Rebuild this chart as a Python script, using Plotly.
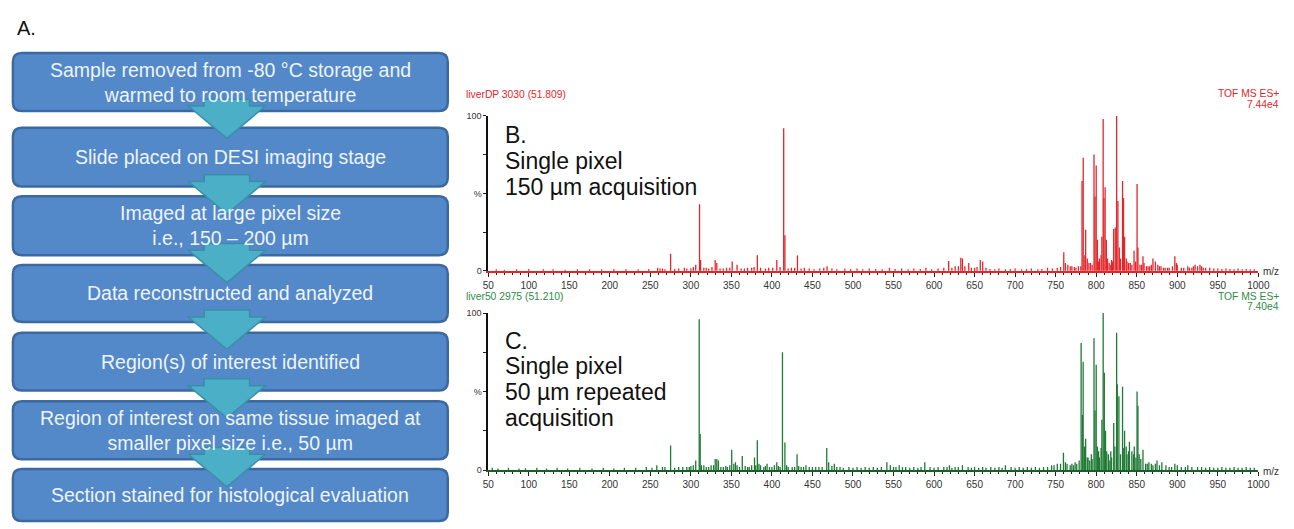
import plotly.graph_objects as go

# ---------------- data ----------------
steps = [
    "Sample removed from -80 °C storage and<br>warmed to room temperature",
    "Slide placed on DESI imaging stage",
    "Imaged at large pixel size<br>i.e., 150 – 200 µm",
    "Data reconstructed and analyzed",
    "Region(s) of interest identified",
    "Region of interest on same tissue imaged at<br>smaller pixel size i.e., 50 µm",
    "Section stained for histological evaluation",
]

# Spectrum B (150 um) : m/z and relative intensity (%)
mz_b = [60, 70, 85, 100, 118, 130, 145, 160, 175, 190, 205, 220, 235, 248, 259, 265, 275, 285, 292,
        300, 303, 306, 310.7, 312, 316, 322, 330, 332, 336, 344, 351, 357, 366, 375, 382, 386, 396,
        406, 414.5, 416, 424, 431.5, 440, 468, 474, 490, 505, 520, 545, 560, 575, 590, 605, 618,
        630, 633, 635, 642.8, 646, 657, 660, 664, 680, 700, 720, 740, 752, 760, 765, 770, 775, 781,
        782.5, 784, 786, 787, 789, 791, 795, 797.3, 798.5, 800, 801.5, 803, 806, 807, 808.6, 809.5,
        811, 812.5, 814, 818, 820, 821.6, 823.5, 825.2, 826.8, 828.5, 830, 832.5, 833.7, 835, 838,
        842, 846.7, 848.5, 850.4, 851.5, 854, 857.7, 862, 866, 870, 873, 876, 880, 885, 890, 897,
        900, 905, 913, 918, 922, 925, 928, 932, 940, 950, 960, 975, 990]
int_b = [1, 0.8, 1, 1.2, 1, 1, 0.8, 1, 1, 1, 1.2, 1, 1, 1.2, 2, 1.5, 11, 1.5, 2,
         1.5, 2.5, 4, 43, 7, 2, 1.5, 7, 5, 1.5, 2, 6, 4, 1.5, 2, 10, 2, 2,
         7, 92, 23, 2, 10, 2, 3, 1.5, 1.5, 1.5, 1.5, 2, 1.5, 1.5, 2, 1.5, 6.3,
         3, 8.4, 8, 5, 2, 7, 6, 2, 1.5, 1.5, 1.5, 2, 2, 12, 4, 3, 2, 3,
         58, 73, 10, 26.6, 8, 5, 4, 75, 48, 68, 20, 6, 10, 22, 98, 47,
         54, 20, 8, 4, 6, 27, 28, 100, 45, 15, 8, 58, 47, 22, 6,
         5, 13, 6, 56, 15, 4, 9.5, 3, 3, 8, 6, 4, 3, 2, 2, 9.5,
         4, 2, 3, 2, 4, 3, 4, 2, 2, 1.5, 1.5, 1.5, 1]
# small background peaks of spectrum B
noise_mz_b = [262, 268, 280, 295, 319, 326, 340, 348, 362, 370, 378, 392, 401, 410, 420, 428, 436,
              446, 452, 459, 464, 480, 497, 512, 528, 536, 552, 568, 583, 597, 612, 622, 626, 638,
              650, 653, 669, 675, 688, 694, 708, 714, 728, 733, 746, 756, 762, 768, 773, 778, 793,
              804, 816, 819, 837, 840, 844, 856, 859, 864, 868, 878, 883, 888, 894, 899, 908, 915,
              920, 930, 935, 945, 955, 965, 970, 980, 985, 995]
noise_int_b = [1.5, 1, 1.2, 1.5, 2, 2.5, 1.5, 2, 1.5, 2, 2.5, 1.5, 2, 2.5, 1.5, 2, 1.5,
               1.5, 1, 1.5, 2, 1, 1.2, 1, 1.2, 1, 1.2, 1, 1.2, 1, 2, 2, 3, 3,
               2, 2.5, 1.2, 1, 1, 1.2, 1, 1.2, 1, 1.2, 1.5, 2.5, 5, 3, 2.5, 3, 5,
               8, 5, 7, 8, 5, 4, 4, 5, 3, 4, 3, 2, 2, 3, 5, 2, 2,
               3, 3, 2, 1.5, 1.2, 1.2, 1, 1, 1.2, 1]

# Spectrum C (50 um repeated)
mz_c = [55, 62, 75, 88, 96, 110, 122, 135, 148, 163, 178, 192, 205, 218, 232, 245, 252,
        258, 268, 275, 290, 298, 303, 306, 310.3, 311.5, 316, 322, 328, 330, 332, 334, 340, 345,
        350.4, 353, 355, 357, 363.4, 370, 375, 378.5, 382, 386, 390, 394, 400, 406, 410, 413, 416,
        420, 425, 431, 436, 442, 450, 458, 467.6, 470, 477, 484, 495, 505, 515, 525, 535, 541.8,
        546, 557, 565, 575, 588.5, 595, 605, 612, 619, 626, 635, 642, 650, 660, 670, 680, 688,
        695, 705, 715, 725, 735, 745, 752, 759.6, 764, 768, 772, 776, 779, 781.4, 783, 783.9,
        785.5, 787, 789, 792, 795, 797.3, 798.5, 800, 801.5, 804, 806, 807, 808.6, 810, 811.5,
        813, 816, 819, 821.6, 823, 825.2, 826, 828, 830, 832.5, 834, 835, 838, 841, 844, 847,
        849, 850.4, 851.5, 853, 857.7, 861, 865, 870, 875, 878, 881, 890, 897, 905, 913, 925,
        940, 955, 970, 985]
int_c = [1.5, 1, 1.5, 1, 1.2, 1.5, 1, 1.5, 1, 1.5, 1, 1.5, 1, 1.5, 1.5, 2, 1.5,
         3, 2, 15.6, 2, 2, 3, 6, 96, 23, 3, 2, 3, 7, 7, 6, 2, 2,
         13, 4, 5, 3, 9, 2, 3, 8, 19, 3, 2, 4, 2, 5, 2, 75, 17.5,
         2, 2, 10, 2, 3, 2, 2, 14, 5, 4, 2, 2, 2, 2, 2, 2, 5,
         3, 3, 2, 2, 5, 2, 2, 2, 3, 2, 3, 2, 2, 2, 2, 2, 3,
         2, 2, 2, 2, 2, 3, 4, 11, 4, 3, 3, 4, 6, 81, 35, 69,
         15, 20, 8, 6, 7, 84, 38, 67, 15, 8, 14, 32, 100, 62, 25,
         12, 6, 8, 30, 15, 87.5, 54.6, 47, 10, 53, 14, 25, 10, 18, 12, 15,
         8, 50, 41, 10, 13, 4, 5, 3, 6, 3, 5, 2, 4, 2, 3, 2,
         2, 2, 2, 2]
# small background peaks of spectrum C
noise_mz_c = [265, 280, 285, 295, 300, 313, 319, 325, 337, 343, 348, 360, 367, 372, 380, 384, 392,
              397, 403, 408, 418, 428, 433, 439, 446, 454, 462, 474, 480, 488, 500, 510, 520, 530,
              550, 553, 561, 570, 580, 584, 600, 616, 622, 630, 646, 655, 664, 675, 684, 700, 710,
              720, 730, 740, 748, 756, 762, 770, 774, 790, 794, 803, 815, 818, 837, 840, 846, 855,
              863, 868, 873, 886, 893, 900, 910, 918, 930, 935, 945, 950, 960, 965, 975, 980, 990, 995]
noise_int_c = [2, 1.5, 2, 2, 2.5, 3, 2, 3, 2, 2.5, 3, 2, 2.5, 2, 3, 4, 2.5,
               2, 3, 2.5, 3, 2, 2.5, 2, 2, 2, 2, 2.5, 2, 1.5, 1.5, 1.5, 1.5, 1.5,
               2, 2, 2, 1.5, 1.5, 2, 1.5, 2, 1.5, 2, 1.5, 1.5, 1.5, 1.5, 1.5, 1.5, 1.5,
               1.5, 1.5, 2, 3, 4, 5, 4, 5, 8, 10, 12, 10, 12, 15, 12, 10, 7,
               4, 4, 4, 3, 2, 3, 2, 2, 2, 1.5, 1.5, 1.5, 1.5, 1.5, 1.5, 1.5, 1.5, 1.5]

x_ticks = list(range(50, 1001, 50))

# ---------------- helpers (page pixels -> paper) ----------------
W, H = 1294, 529
def X(p): return p / W
def Y(p): return 1 - p / H

def sticks(mz, inten):
    xs, ys = [], []
    for m, v in zip(mz, inten):
        xs += [m, m, None]
        ys += [0, v, None]
    return xs, ys

RED = "#E3262B"
GREEN = "#1F7A35"
FONT = "Liberation Sans, Arial, sans-serif"

fig = go.Figure()
for mzs, ints, color, xa, ya in [(noise_mz_b, noise_int_b, RED, "x", "y"),
                                 (mz_b, int_b, RED, "x", "y"),
                                 (noise_mz_c, noise_int_c, GREEN, "x2", "y2"),
                                 (mz_c, int_c, GREEN, "x2", "y2")]:
    xs, ys = sticks(mzs, ints)
    fig.add_trace(go.Scatter(x=xs, y=ys, mode="lines", line=dict(color=color, width=1.3),
                             xaxis=xa, yaxis=ya, showlegend=False, hoverinfo="skip"))

def xaxis_style(anchor, linecolor):
    return dict(domain=[X(489), X(1270)], range=[50, 1000], anchor=anchor,
                showgrid=False, zeroline=False, showline=True, linecolor=linecolor, linewidth=2,
                tickmode="array", tickvals=x_ticks, ticks="outside", ticklen=4, tickwidth=1,
                tickcolor="#222", tickfont=dict(size=10, color="#333", family=FONT),
                minor=dict(ticks="outside", ticklen=2, dtick=10, tick0=50, tickcolor="#222", tickwidth=1))

def yaxis_style(anchor, y0, y1):
    return dict(domain=[Y(y0), Y(y1)], range=[0, 100], anchor=anchor,
                showgrid=False, zeroline=False, showline=True, linecolor="#111", linewidth=1.5,
                tickmode="array", tickvals=[0, 25, 50, 75, 100], ticktext=["0", "", "%", "", "100"],
                ticks="outside", ticklen=3, tickcolor="#222",
                tickfont=dict(size=9, color="#333", family=FONT))

fig.update_layout(
    width=W, height=H, margin=dict(l=0, r=0, t=0, b=0), autosize=False,
    paper_bgcolor="white", plot_bgcolor="white",
    xaxis=xaxis_style("y", RED),
    yaxis=yaxis_style("x", 271, 113),
    xaxis2=xaxis_style("y2", "#1B5E2B"),
    yaxis2=yaxis_style("x2", 474, 314),
)

# ---------------- flowchart ----------------
boxes = [(49, 108), (125, 185), (195, 255), (265, 323), (334, 393), (404, 463), (473, 526)]
bx0, bx1, r = 7, 448, 9
shapes = []
def rrect(x0, y0, x1, y1, r):
    pts = (f"M{X(x0 + r)},{Y(y0)} L{X(x1 - r)},{Y(y0)} Q{X(x1)},{Y(y0)} {X(x1)},{Y(y0 + r)} "
           f"L{X(x1)},{Y(y1 - r)} Q{X(x1)},{Y(y1)} {X(x1 - r)},{Y(y1)} "
           f"L{X(x0 + r)},{Y(y1)} Q{X(x0)},{Y(y1)} {X(x0)},{Y(y1 - r)} "
           f"L{X(x0)},{Y(y0 + r)} Q{X(x0)},{Y(y0)} {X(x0 + r)},{Y(y0)} Z")
    return pts

for (t, b) in boxes:
    shapes.append(dict(type="path", xref="paper", yref="paper", path=rrect(bx0, t, bx1, b, r),
                       fillcolor="#5389C8", line=dict(color="#3C69A0", width=2.5)))

cx = 224
for (t, b) in boxes[:-1]:
    s0, sh, tip = b - 12, b - 5, b + 28
    path = (f"M{X(cx - 23)},{Y(s0)} L{X(cx + 23)},{Y(s0)} L{X(cx + 23)},{Y(sh)} "
            f"L{X(cx + 39)},{Y(sh)} L{X(cx)},{Y(tip)} L{X(cx - 39)},{Y(sh)} "
            f"L{X(cx - 23)},{Y(sh)} Z")
    shapes.append(dict(type="path", xref="paper", yref="paper", path=path,
                       fillcolor="#4BAFC8", line=dict(color="#3A8FA8", width=1.5)))

annotations = []
for (t, b), txt in zip(boxes, steps):
    annotations.append(dict(x=X(227.5), y=Y((t + b) / 2), xref="paper", yref="paper",
                            text=txt, showarrow=False, xanchor="center", yanchor="middle",
                            align="center", font=dict(size=19.5, color="#EEF3FA", family=FONT)))

def note(x, y, text, size, color, xanchor="left"):
    annotations.append(dict(x=X(x), y=Y(y), xref="paper", yref="paper", text=text, showarrow=False,
                            xanchor=xanchor, yanchor="middle", font=dict(size=size, color=color, family=FONT)))

note(9, 23, "A.", 20, "#111")
note(464, 91, "liverDP 3030 (51.809)", 10.3, RED)
note(1293, 90, "TOF MS ES+", 10.3, RED, "right")
note(1293, 101, "7.44e4", 10.3, RED, "right")
note(464, 297, "liver50 2975 (51.210)", 10.3, "#2E8B45")
note(1293, 297, "TOF MS ES+", 10.3, "#2E8B45", "right")
note(1293, 307, "7.40e4", 10.3, "#2E8B45", "right")
note(1273, 272, "m/z", 10, "#333")
note(1273, 475, "m/z", 10, "#333")

for y, txt in [(132, "B."), (159, "Single pixel"), (185, "150 µm acquisition")]:
    note(504, y, txt, 23, "#111")
for y, txt in [(342, "C."), (368, "Single pixel"), (394, "50 µm repeated"), (421, "acquisition")]:
    note(504, y, txt, 23, "#111")

fig.update_layout(shapes=shapes, annotations=annotations)
fig.write_html("out.html",
               config={"responsive": False, "displayModeBar": False},
               post_script="document.body.style.margin='0';document.body.style.overflow='hidden';")
